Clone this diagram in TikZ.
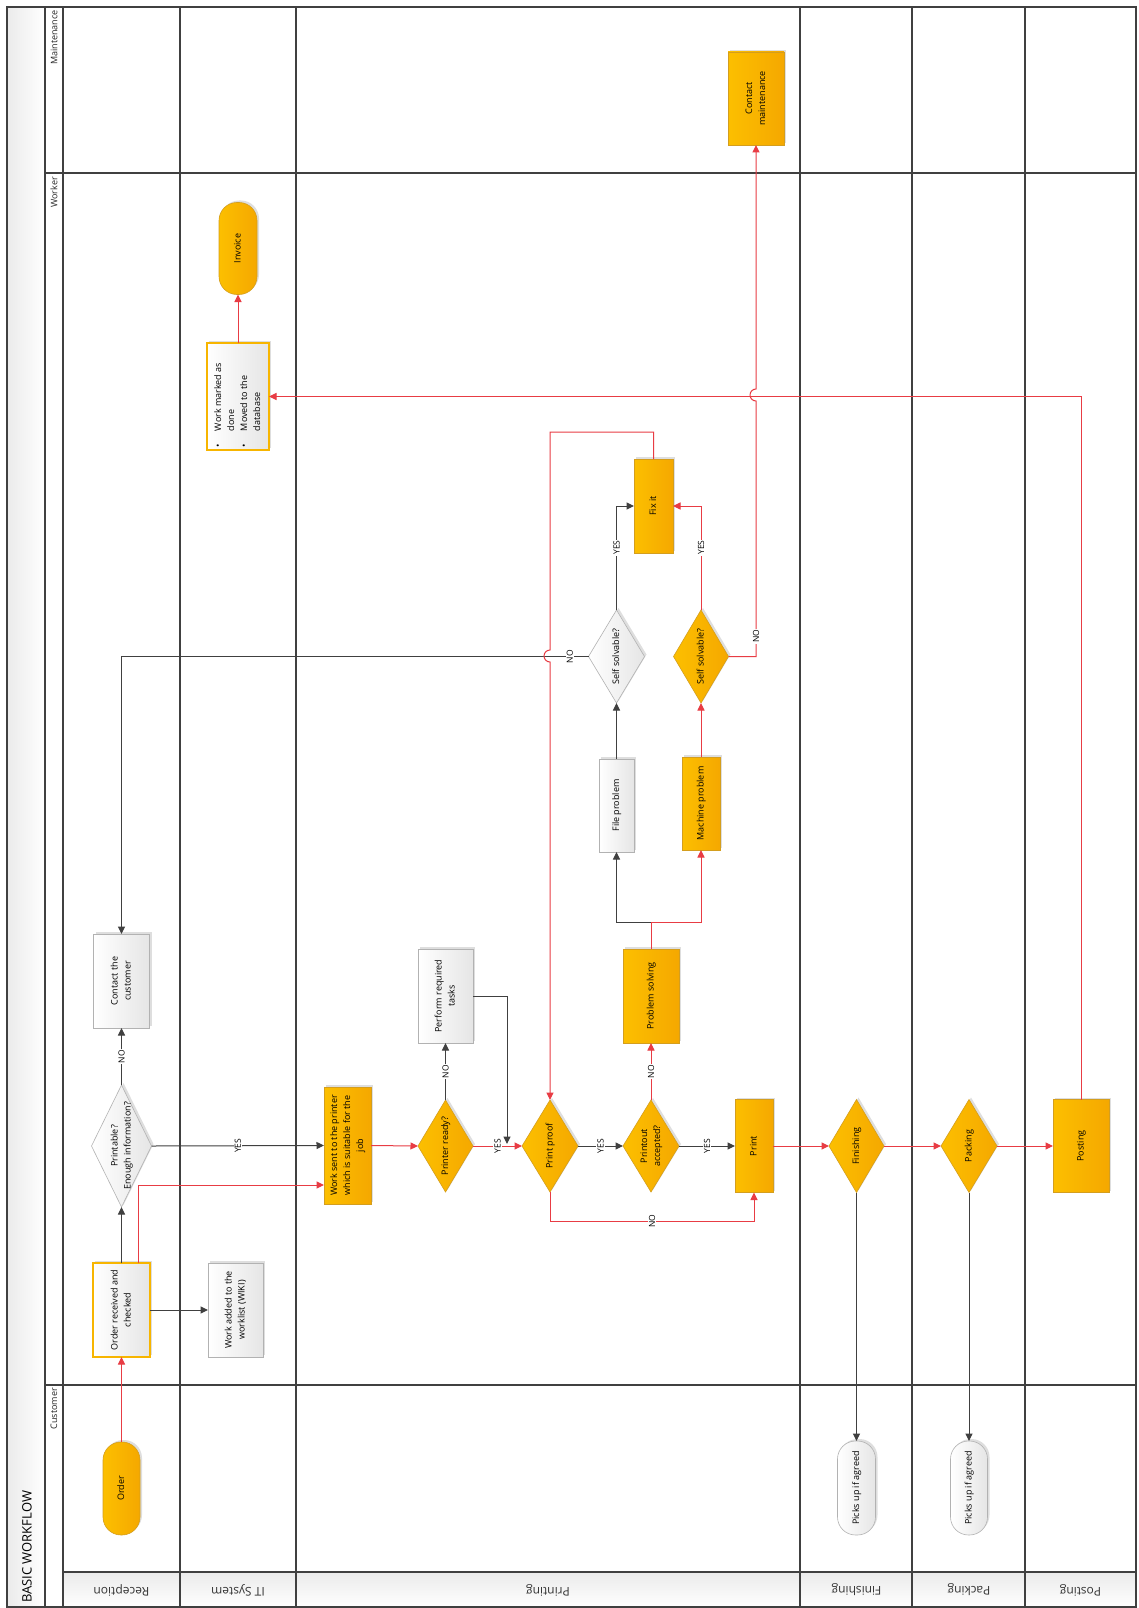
\documentclass[tikz,border=0pt]{standalone}
\usepackage{fontspec}
\setmainfont{Open Sans}
\usetikzlibrary{arrows.meta,shapes.geometric,shadows}
\definecolor{myred}{RGB}{232,60,68}
\definecolor{dk}{RGB}{64,64,64}
\definecolor{orA}{RGB}{252,191,0}
\definecolor{orB}{RGB}{245,168,0}
\definecolor{orD}{RGB}{212,158,30}
\definecolor{orT}{RGB}{247,181,0}
\definecolor{lanec}{RGB}{64,64,64}
\newcommand{\rt}[1]{\makebox[0pt]{\raisebox{-.5\height}[0pt][0pt]{\rotatebox{90}{\begin{tabular}{@{}c@{}}#1\end{tabular}}}}}
\tikzset{
 shd/.style={drop shadow={shadow xshift=2pt,shadow yshift=2pt,fill=black,opacity=.13}},
 nbase/.style={inner sep=0pt,outer sep=0pt,font=\fontsize{9}{13}\selectfont,shd},
 orbox/.style={nbase,rectangle,draw=orD,line width=.6pt,left color=orA,right color=orB},
 whbox/.style={nbase,rectangle,draw=black!30,line width=.6pt,left color=white,right color=black!10},
 hlbox/.style={whbox,draw=orT,line width=2.6pt},
 ordia/.style={orbox,diamond},
 whdia/.style={whbox,diamond},
 orpill/.style={orbox,rounded corners=18pt},
 whpill/.style={whbox,rounded corners=18pt},
 redarrow/.style={draw=myred,line width=1pt,-{Triangle[length=7.5pt,width=7pt]}},
 darkarrow/.style={draw=dk,line width=1pt,-{Triangle[length=7.5pt,width=7pt]}},
 lbl/.style={fill=white,inner sep=1pt,font=\fontsize{8.5}{10}\selectfont,text=black,rotate=90},
 lanel/.style={draw=lanec,line width=1.6pt},
 lanetxt/.style={font=\fontsize{12}{14}\selectfont,text=black!80,rotate=180,inner sep=0pt},
 subtxt/.style={font=\fontsize{9}{11}\selectfont,text=black!85,rotate=90,inner sep=0pt,anchor=east},
}
\begin{document}
\begin{tikzpicture}[x=1pt,y=-1pt]
\useasboundingbox (0,0) rectangle (1138,1608);
\fill[white] (0,0) rectangle (1138,1608);
% backgrounds
\shade[left color=black!8,right color=white] (7,7) rectangle (45,1607);
\shade[top color=black!8,bottom color=white] (63,1572) rectangle (1136,1607);
% lane grid
\draw[lanel] (7,7) rectangle (1136,1607);
\foreach \x in {45,63,180,296,800,912,1025} \draw[lanel] (\x,7) -- (\x,1607);
\draw[lanel] (45,173) -- (1136,173);
\draw[lanel] (45,1385) -- (1136,1385);
\draw[lanel] (63,1572) -- (1136,1572);
% titles
\node[font=\fontsize{13}{15}\selectfont,rotate=90,anchor=west,inner sep=0pt] (title) at (27,1603) {BASIC WORKFLOW};
\node[subtxt] (sMaint) at (54,10) {Maintenance};
\node[subtxt] (sWork) at (54,177) {Worker};
\node[subtxt] (sCust) at (54,1388) {Customer};
\node[lanetxt] (lRec) at (121.5,1590) {Reception};
\node[lanetxt] (lIT) at (238,1590) {IT System};
\node[lanetxt] (lPr) at (548,1590) {Printing};
\node[lanetxt] (lFin) at (856.5,1590) {Finishing};
\node[lanetxt] (lPack) at (969,1590) {Packing};
\node[lanetxt] (lPost) at (1080.5,1590) {Posting};
% nodes
\node[orpill,minimum width=37pt,minimum height=93pt] (order) at (121.5,1488.5) {\rt{Order}};
\node[hlbox,minimum width=57pt,minimum height=94pt] (orderrec) at (121.5,1310) {\rt{Order received and\\checked}};
\node[whbox,minimum width=55pt,minimum height=94pt] (worklist) at (235.5,1310) {\rt{Work added to the\\worklist (WIKI)}};
\node[whdia,minimum width=60pt,minimum height=122pt] (printable) at (121.5,1146) {\rt{Printable?\\Enough information?}};
\node[whbox,minimum width=56pt,minimum height=94pt] (contact) at (121.5,981) {\rt{Contact the\\customer}};
\node[orbox,minimum width=47pt,minimum height=117pt] (worksent) at (347.5,1145.5) {\rt{Work sent to the printer\\which is suitable for the\\job}};
\node[ordia,minimum width=55pt,minimum height=92pt] (printerready) at (445.5,1146) {\rt{Printer ready?}};
\node[whbox,minimum width=55pt,minimum height=94pt] (perform) at (445.5,996) {\rt{Perform required\\tasks}};
\node[ordia,minimum width=56pt,minimum height=92pt] (printproof) at (550,1146) {\rt{Print proof}};
\node[ordia,minimum width=56pt,minimum height=92pt] (accepted) at (651,1146) {\rt{Printout\\accepted?}};
\node[orbox,minimum width=38pt,minimum height=93pt] (print) at (754,1146) {\rt{Print}};
\node[orbox,minimum width=56pt,minimum height=94pt] (probsolv) at (651,996) {\rt{Problem solving}};
\node[whbox,minimum width=35pt,minimum height=93pt] (fileprob) at (616.5,805.5) {\rt{File problem}};
\node[orbox,minimum width=38pt,minimum height=93pt] (machprob) at (701,803.5) {\rt{Machine problem}};
\node[whdia,minimum width=56pt,minimum height=93pt] (ss1) at (616.5,656.5) {\rt{Self solvable?}};
\node[ordia,minimum width=55pt,minimum height=93pt] (ss2) at (701,656.5) {\rt{Self solvable?}};
\node[orbox,minimum width=39pt,minimum height=94pt] (fixit) at (653.5,506) {\rt{Fix it}};
\node[orbox,minimum width=56pt,minimum height=93pt] (contmaint) at (756,98.5) {\rt{Contact\\maintenance}};
\node[hlbox,minimum width=62pt,minimum height=107pt] (workmarked) at (238,396.5) {\makebox[0pt]{\raisebox{-51pt}[0pt][0pt]{\rotatebox{90}{\begin{tabular}{@{}l@{\hspace{13pt}}l@{}}\textbullet&Work marked as\\&done\\\textbullet&Moved to the\\&database\end{tabular}}}}};
\node[orpill,minimum width=38pt,minimum height=92pt] (invoice) at (238,248.5) {\rt{Invoice}};
\node[ordia,minimum width=55pt,minimum height=93pt] (finishing) at (856.5,1146) {\rt{Finishing}};
\node[ordia,minimum width=56pt,minimum height=93pt] (packing) at (969,1146) {\rt{Packing}};
\node[orbox,minimum width=56pt,minimum height=93pt] (posting) at (1081,1146) {\rt{Posting}};
\node[whpill,minimum width=38pt,minimum height=94pt] (pick1) at (856.5,1488) {\rt{Picks up if agreed}};
\node[whpill,minimum width=37pt,minimum height=94pt] (pick2) at (969,1488) {\rt{Picks up if agreed}};
% helper coordinates
\coordinate (pj) at (507,1144);
\coordinate (nob) at (550,1221);
\coordinate (split) at (651,922);
\coordinate (lt) at (550,432);
\coordinate (h1) at (550,650);
\coordinate (h2) at (756,401);
% connectors
\draw[redarrow] (order.north) -- (orderrec.south);
\draw[darkarrow] (orderrec.north) -- (printable.south);
\draw[darkarrow] (orderrec.east) -- (worklist.west);
\draw[redarrow] ([xshift=-12pt]orderrec.north east) |- ([yshift=-39.5pt]worksent.west);
\draw[darkarrow] (printable.east) -- node[lbl]{YES} (worksent.west);
\draw[darkarrow] (printable.north) -- node[lbl]{NO} (contact.south);
\draw[redarrow] (worksent.east) -- (printerready.west);
\draw[redarrow] (printerready.east) -- node[lbl]{YES} (printproof.west);
\draw[darkarrow] (printerready.north) -- node[lbl]{NO} (perform.south);
\draw[darkarrow] (perform.east) -| (pj);
\draw[darkarrow] (printproof.east) -- node[lbl]{YES} (accepted.west);
\draw[darkarrow] (accepted.east) -- node[lbl]{YES} (print.west);
\draw[redarrow] (accepted.north) -- node[lbl]{NO} (probsolv.south);
\draw[redarrow] (printproof.south) -- (nob) -| node[lbl,pos=0.25]{NO} (print.south);
\draw[darkarrow] (split) -| (fileprob.south);
\draw[redarrow] (probsolv.north) -- (split) -| (machprob.south);
\draw[darkarrow] (fileprob.north) -- (ss1.south);
\draw[redarrow] (machprob.north) -- (ss2.south);
\draw[darkarrow] (ss1.north) |- node[lbl,pos=0.3]{YES} (fixit.west);
\draw[redarrow] (ss2.north) |- node[lbl,pos=0.3]{YES} (fixit.east);
\draw[darkarrow] (ss1.west) -| node[lbl,pos=0.02]{NO} (contact.north);
\draw[redarrow] (fixit.north) |- (lt) -- (h1) arc[start angle=90,end angle=270,radius=6pt] -- (printproof.north);
\draw[redarrow] (ss2.east) -| node[lbl,pos=0.54]{NO} (h2) arc[start angle=-90,end angle=-270,radius=6pt] -- (contmaint.south);
\draw[redarrow] (posting.north) |- (workmarked.east);
\draw[redarrow] (workmarked.north) -- (invoice.south);
\draw[redarrow] (print.east) -- (finishing.west);
\draw[redarrow] (finishing.east) -- (packing.west);
\draw[redarrow] (packing.east) -- (posting.west);
\draw[darkarrow] (finishing.south) -- (pick1.north);
\draw[darkarrow] (packing.south) -- (pick2.north);
\end{tikzpicture}
\end{document}
